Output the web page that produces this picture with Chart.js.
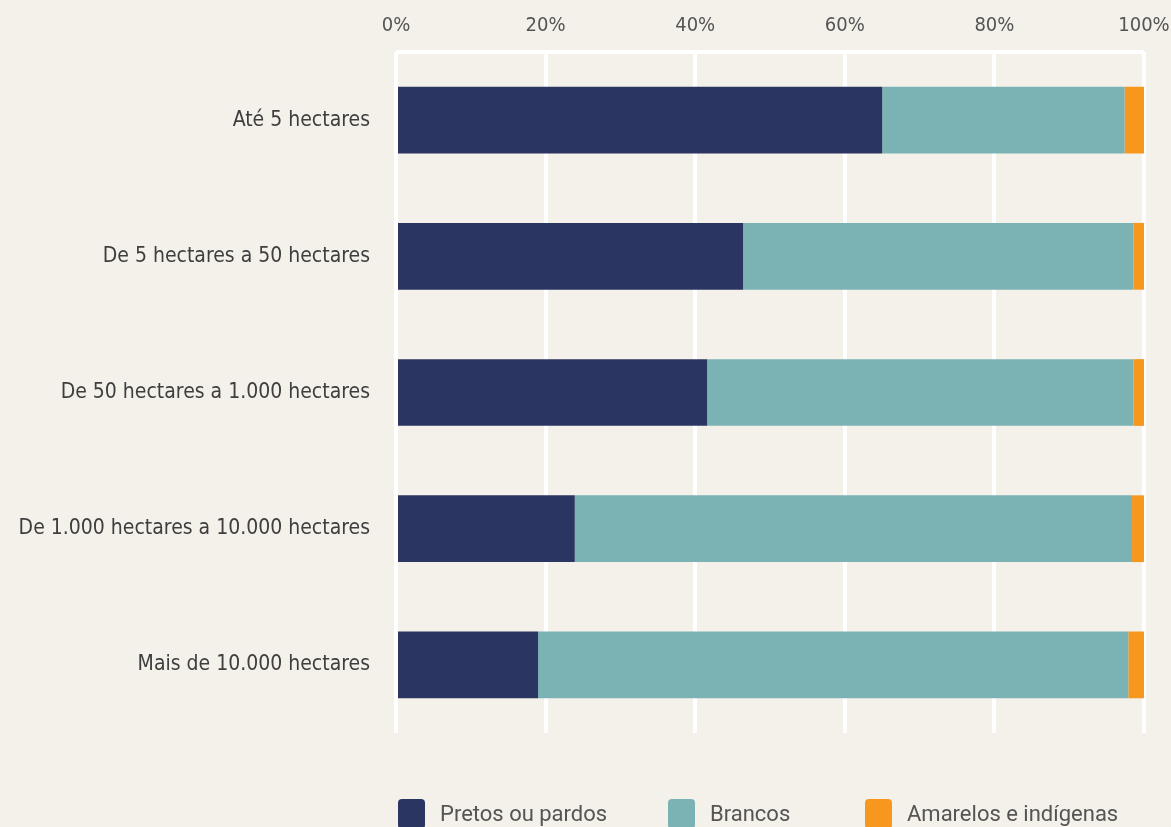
<!DOCTYPE html>
<html>
<head>
<meta charset="utf-8">
<script src="https://cdn.jsdelivr.net/npm/chart.js@4"></script>
<style>
  html, body { margin: 0; padding: 0; background: #f4f0ea; }
  #wrap { position: relative; width: 1171px; height: 827px; overflow: hidden; }
  #legend { position: absolute; top: 799px; left: 0; width: 1171px; height: 40px; }
  .item { position: absolute; top: 0; display: flex; align-items: flex-start;
          font-family: Roboto, "Noto Sans", sans-serif; font-size: 22px; color: #555; }
  .box { width: 27px; height: 30px; border-radius: 4px; margin-right: 15px; }
  .item span { line-height: 30px; }
</style>
</head>
<body>
<div id="wrap">
  <canvas id="chart" width="1171" height="827"></canvas>
  <div id="legend"></div>
</div>
<script>
// Kategorien und Werte (Prozent)
var categories = ['Até 5 hectares', 'De 5 hectares a 50 hectares', 'De 50 hectares a 1.000 hectares',
                  'De 1.000 hectares a 10.000 hectares', 'Mais de 10.000 hectares'];
var seriesNames = ['Pretos ou pardos', 'Brancos', 'Amarelos e indígenas'];
var pretos = [65.0, 46.4, 41.6, 23.9, 19.0];
var brancos = [32.4, 52.2, 57.0, 74.5, 78.9];
var amarelos = [2.6, 1.4, 1.4, 1.6, 2.1];
var tickValues = [0, 20, 40, 60, 80, 100];
var colors = ['#2b3561', '#7bb3b4', '#f7971e'];
var legendLeft = [398, 668, 865];

var condensed = '"DejaVu Sans Condensed", "Liberation Sans Narrow", sans-serif';

var ctx = document.getElementById('chart').getContext('2d');
new Chart(ctx, {
    type: 'bar',
    data: {
        labels: categories,
        datasets: [pretos, brancos, amarelos].map(function (vals, i) {
            return {
                label: seriesNames[i],
                data: vals,
                backgroundColor: colors[i],
                borderWidth: 0,
                barPercentage: 0.49,
                categoryPercentage: 1
            };
        })
    },
    options: {
        indexAxis: 'y',
        responsive: false,
        animation: false,
        layout: { padding: { left: 0, right: 27, top: 0, bottom: 94 } },
        plugins: { legend: { display: false }, tooltip: { enabled: false } },
        scales: {
            x: {
                position: 'top',
                stacked: true,
                min: 0,
                max: 100,
                afterBuildTicks: function (scale) {
                    scale.ticks = tickValues.map(function (v) { return { value: v }; });
                },
                afterFit: function (scale) {
                    scale.height = 52;
                    scale.paddingLeft = 0;
                    scale.paddingRight = 0;
                },
                grid: { color: '#ffffff', lineWidth: 4, drawTicks: false },
                border: { display: false },
                ticks: {
                    padding: 14,
                    color: '#555',
                    font: { family: condensed, size: 20 },
                    callback: function (v) { return v + '%'; }
                }
            },
            y: {
                stacked: true,
                afterFit: function (scale) { scale.width = 396; },
                grid: {
                    drawTicks: false,
                    lineWidth: 4,
                    color: function (c) {
                        return (c.index === 0 || c.index === categories.length) ? '#ffffff' : 'rgba(0,0,0,0)';
                    }
                },
                border: { display: false },
                ticks: { padding: 26, color: '#3e3e3e', font: { family: condensed, size: 21 } }
            }
        }
    }
});

// Legende als HTML
var legend = document.getElementById('legend');
seriesNames.forEach(function (name, i) {
    var item = document.createElement('div');
    item.className = 'item';
    item.style.left = legendLeft[i] + 'px';
    var box = document.createElement('div');
    box.className = 'box';
    box.style.background = colors[i];
    var txt = document.createElement('span');
    txt.textContent = name;
    item.appendChild(box);
    item.appendChild(txt);
    legend.appendChild(item);
});
</script>
</body>
</html>
